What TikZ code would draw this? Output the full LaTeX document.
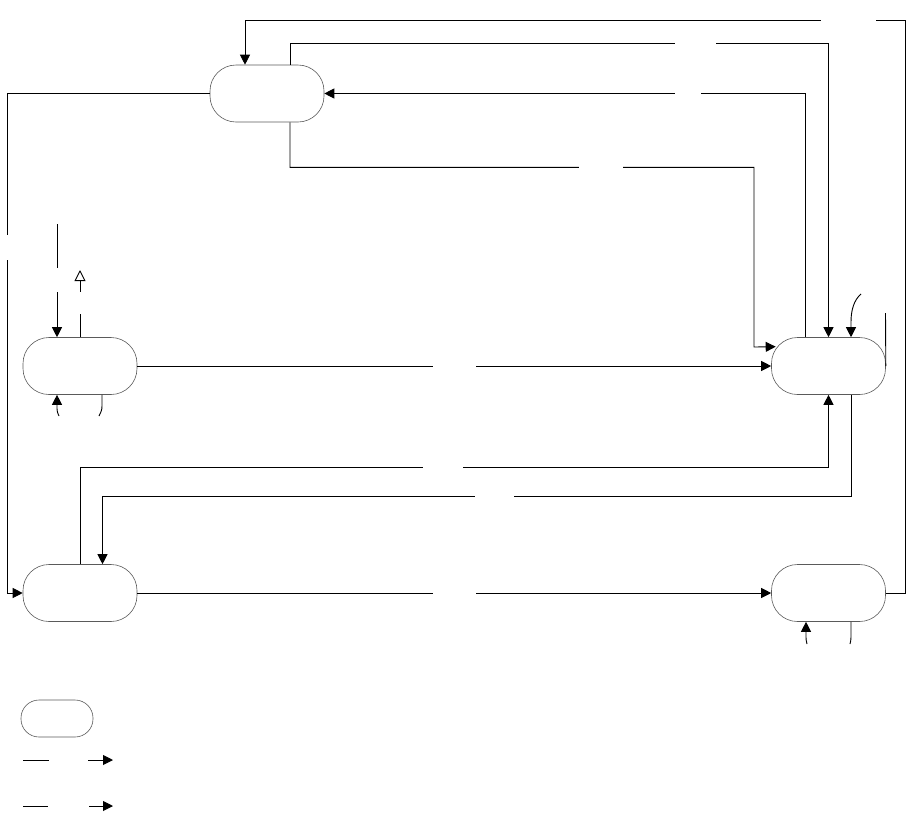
\documentclass[tikz,border=0pt]{standalone}
\usepackage{tikz}
\usetikzlibrary{calc,arrows.meta}
\definecolor{boxcol}{HTML}{5A5A5A}

\begin{document}
\begin{tikzpicture}[x=1pt,y=-1pt,>={Triangle[length=10pt,width=10pt]},
  state/.style={draw=boxcol,line width=0.6pt,rounded corners=26pt,
                minimum width=114pt,minimum height=57pt,inner sep=0pt},
  trans/.style={draw=black,line width=0.9pt},
  hgap/.style={fill=white,inner sep=0pt,minimum height=4pt,minimum width=#1},
  vgap/.style={fill=white,inner sep=0pt,minimum width=4pt,minimum height=#1}]
  \useasboundingbox (0,0) rectangle (907,820);
  % ---------- states -------------------------------------------
  \node[state] (top)  at (267,93.5)  {};
  \node[state] (midl) at (80,366)    {};
  \node[state] (midr) at (828.5,366) {};
  \node[state] (lowl) at (80,593)    {};
  \node[state] (lowr) at (828.5,593) {};
  \coordinate (init) at (57,224);
  \coordinate (exit) at (80,270);
  % ---------- transitions --------------------------------------
  \draw[trans,->] (lowr.east) -| (905,20) -| ($(top.north)+(-22,0)$);
  \draw[trans,->] ($(top.north)+(23,0)$) -- ++(0,-21) -| (midr.north);
  \draw[trans,->] ($(midr.north)+(-23.5,0)$) |- (top.east);
  \draw[trans,->] ($(top.south)+(23,0)$) -- ++(0,45) -| (754,347)
      -- ($(midr.north west)+(4.5,9.5)$);
  \draw[trans,->] (top.west) -| (7,593) -- (lowl.west);
  \draw[trans,->] (init) -- ($(midl.north)+(-23,0)$);
  \draw[trans,-{Triangle[open,length=11pt,width=11pt]}] (midl.north) -- (exit);
  \draw[trans,->] ($(midl.south)+(22,0)$) -- (102,406)
      .. controls (102,410) and (101,412) .. (99,416)
      (59,416) .. controls (57,412) and (57,410) .. (57,406)
      -- ($(midl.south)+(-23,0)$);
  \draw[trans,->] (midl.east) -- (midr.west);
  \draw[trans,->] (midr.east) -- (885.5,313)
      (861,294) .. controls (854,300) and (851,310) .. (851,322)
      -- ($(midr.north)+(22.5,0)$);
  \draw[trans,->] (lowl.north) -- ++(0,-96.5) -| (midr.south);
  \draw[trans,->] ($(midr.south)+(22.5,0)$) -- ++(0,101.5) -| ($(lowl.north)+(22.5,0)$);
  \draw[trans,->] (lowl.east) -- (lowr.west);
  \draw[trans,->] ($(lowr.south)+(22.5,0)$) -- (851,636)
      .. controls (851,640) and (850.5,642) .. (850,644)
      (807,644) .. controls (806,641) and (806,639) .. (806,634)
      -- ($(lowr.south)+(-22.5,0)$);
  % ---------- key ----------------------------------------------
  \node[state,minimum width=72pt,minimum height=37pt,rounded corners=18pt] (key) at (57,718.5) {};
  \coordinate (keyA) at (23,760);
  \coordinate (keyB) at (23,806);
  \draw[trans,->] (keyA) -- ++(90,0);
  \draw[trans,->] (keyB) -- ++(90,0);
  % ---------- label gaps ---------------------------------------
  \node[hgap=55pt] (g1)  at (848.5,20)  {};
  \node[hgap=41pt] (g2)  at (695.5,44)  {};
  \node[hgap=26pt] (g3)  at (687.5,93.5) {};
  \node[hgap=44pt] (g4)  at (601,167)   {};
  \node[vgap=24pt] (g5)  at (57,280)    {};
  \node[vgap=22pt] (g6)  at (80,303)    {};
  \node[hgap=43pt] (g7)  at (454.5,366) {};
  \node[hgap=40pt] (g8)  at (443,468)   {};
  \node[hgap=39pt] (g9)  at (494.5,496) {};
  \node[vgap=25pt] (g10) at (7,247.5)   {};
  \node[hgap=43pt] (g11) at (454.5,593) {};
  \node[hgap=39pt] (g12) at (68.5,760)  {};
  \node[hgap=41pt] (g13) at (68.5,806)  {};
\end{tikzpicture}
\end{document}
